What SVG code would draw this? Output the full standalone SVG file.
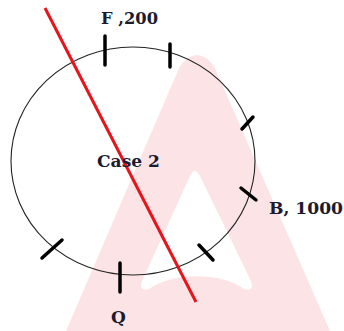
<svg xmlns="http://www.w3.org/2000/svg" width="344" height="331" viewBox="0 0 344 331">
<style>
.lbl{font-family:"DejaVu Serif","Liberation Serif",serif;font-weight:bold;font-size:17px;fill:#1b1b2f}
.tick{stroke:#000;stroke-width:3.5;stroke-linecap:round}
</style>
<rect width="344" height="331" fill="#fff"/>
<g id="watermark">
<path d="M66 331 L180 66 Q197 44 214 66 L330 331 Z" fill="#fce4e6"/>
<path d="M190 176 Q195 166 200 176 L251 281 Q255 292 244 289 C222 272 172 272 149 289 Q138 292 142 281 Z" fill="#fff"/>
</g>
<g id="circle">
<ellipse cx="133" cy="161" rx="122" ry="114" fill="none" stroke="#222" stroke-width="1.1"/>
</g>
<g id="connectors">
<line x1="45" y1="8" x2="196" y2="302" stroke="#e8141c" stroke-width="3"/>
</g>
<g id="ticks">
<line class="tick" x1="105" y1="36" x2="105" y2="65"/>
<line class="tick" x1="170" y1="44" x2="170" y2="67"/>
<line class="tick" x1="242" y1="129" x2="253" y2="117"/>
<line class="tick" x1="241" y1="188" x2="256" y2="200"/>
<line class="tick" x1="199" y1="245" x2="213" y2="260"/>
<line class="tick" x1="120" y1="263" x2="120" y2="292"/>
<line class="tick" x1="42" y1="258" x2="62" y2="240"/>
</g>
<g id="node-F"><text class="lbl" x="101" y="24" textLength="57" lengthAdjust="spacingAndGlyphs">F ,200</text></g>
<g id="node-case"><text class="lbl" x="97" y="167" textLength="63" lengthAdjust="spacingAndGlyphs">Case 2</text></g>
<g id="node-B"><text class="lbl" x="269" y="214" textLength="74" lengthAdjust="spacingAndGlyphs">B, 1000</text></g>
<g id="node-Q"><text class="lbl" x="111" y="323">Q</text></g>
</svg>
